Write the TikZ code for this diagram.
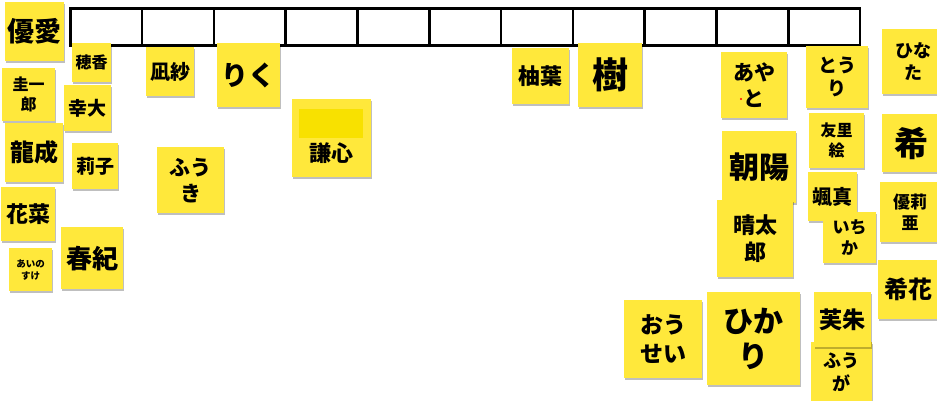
\documentclass[tikz,border=0pt]{standalone}
\usepackage{fontspec}
\newfontfamily\jp{Noto Sans CJK JP}
\usetikzlibrary{shadows}
\definecolor{notey}{HTML}{FFE83B}
\definecolor{notedk}{HTML}{F8E100}
\newcommand\jfs[2]{\fontsize{#1}{#2}\selectfont}
\tikzset{
  note/.style={fill=notey, anchor=north west, inner sep=0pt, align=center,
    drop shadow={shadow xshift=0.8pt, shadow yshift=-1.4pt, opacity=0.25, fill=black}},
  cell/.style={draw=black, line width=2.6pt, minimum width=71.8pt, minimum height=37pt,
    anchor=north west, inner sep=0pt},
}
\begin{document}
\begin{tikzpicture}[x=1pt,y=-1pt]
\useasboundingbox (0,0) rectangle (937,401);
% table
\foreach \i in {1,...,11}
  \node[cell] (c\i) at ({69+71.8*(\i-1)},7) {};
% notes (left)
\node[note, minimum width=59pt, minimum height=59pt, font=\jp\bfseries\jfs{27}{32}] (yuua) at (5,2) {優愛};
\node[note, minimum width=53pt, minimum height=53pt, font=\jp\bfseries\jfs{16}{20}] (keiichiro) at (2,68) {圭一\\郎};
\node[note, minimum width=39pt, minimum height=39pt, font=\jp\bfseries\jfs{16}{20}] (honoka) at (72,43) {穂香};
\node[note, minimum width=47pt, minimum height=46pt, font=\jp\bfseries\jfs{19}{23}] (kodai) at (64,85) {幸大};
\node[note, minimum width=48pt, minimum height=49pt, font=\jp\bfseries\jfs{20}{24}] (nagisa) at (146,47) {凪紗};
\node[note, minimum width=63pt, minimum height=64pt, font=\jp\bfseries\jfs{27}{32}] (riku) at (217,43) {りく};
\node[note, minimum width=79pt, minimum height=78pt] (kenshin) at (292,99) {};
\node[fill=notedk, anchor=north west, inner sep=0pt, minimum width=64pt, minimum height=29pt] (kbar) at (299,109) {};
\node[font=\jp\bfseries\jfs{22}{26}] (kenshintxt) at (331,153) {謙心};
\node[note, minimum width=67pt, minimum height=66pt, font=\jp\bfseries\jfs{21}{26}] (fuuki) at (157,147) {ふう\\き};
\node[note, minimum width=58pt, minimum height=59pt, font=\jp\bfseries\jfs{24}{28}] (ryusei) at (5,123) {龍成};
\node[note, minimum width=46pt, minimum height=46pt, font=\jp\bfseries\jfs{19}{23}] (riko) at (72,143) {莉子};
\node[note, minimum width=54pt, minimum height=54pt, font=\jp\bfseries\jfs{22}{26}] (kana) at (1,187) {花菜};
\node[note, minimum width=43pt, minimum height=43pt, font=\jp\bfseries\jfs{9.5}{12}] (ainosuke) at (9,248) {あいの\\すけ};
\node[note, minimum width=62pt, minimum height=62pt, font=\jp\bfseries\jfs{26}{30}] (haruki) at (61,227) {春紀};
% middle
\node[note, minimum width=57pt, minimum height=56pt, font=\jp\bfseries\jfs{22}{26}] (yuzuha) at (512,48) {柚葉};
\node[note, minimum width=64pt, minimum height=64pt, font=\jp\bfseries\jfs{36}{40}] (itsuki) at (578,43) {樹};
% right
\node[note, minimum width=66pt, minimum height=66pt, font=\jp\bfseries\jfs{21}{26}] (ayato) at (721,52) {あや\\と};
\fill[red] (741,99) circle (1.2pt);
\node[note, minimum width=62pt, minimum height=62pt, font=\jp\bfseries\jfs{19}{23}] (touri) at (806,46) {とう\\り};
\node[note, minimum width=62pt, minimum height=65pt, font=\jp\bfseries\jfs{18}{22}] (hinata) at (882,29) {ひな\\た};
\node[note, minimum width=55pt, minimum height=55pt, font=\jp\bfseries\jfs{16}{20}] (yurie) at (809,113) {友里\\絵};
\node[note, minimum width=58pt, minimum height=58pt, font=\jp\bfseries\jfs{34}{38}] (nozomi) at (882,114) {希};
\node[note, minimum width=74pt, minimum height=72pt, font=\jp\bfseries\jfs{30}{34}] (asahi) at (722,131) {朝陽};
\node[note, minimum width=76pt, minimum height=77pt, font=\jp\bfseries\jfs{22}{27}] (seitaro) at (717,200) {晴太\\郎};
\node[note, minimum width=49pt, minimum height=49pt, font=\jp\bfseries\jfs{20}{24}] (souma) at (808,172) {颯真};
\node[note, minimum width=53pt, minimum height=51pt, font=\jp\bfseries\jfs{17}{21}] (ichika) at (823,212) {いち\\か};
\node[note, minimum width=60pt, minimum height=60pt, font=\jp\bfseries\jfs{17}{21}] (yuria) at (880,182) {優莉\\亜};
\node[note, minimum width=60pt, minimum height=59pt, font=\jp\bfseries\jfs{24}{28}] (nonoka) at (878,260) {希花};
\node[note, minimum width=78pt, minimum height=78pt, font=\jp\bfseries\jfs{23}{29}] (ousei) at (624,300) {おう\\せい};
\node[note, minimum width=93pt, minimum height=93pt, font=\jp\bfseries\jfs{30}{35}] (hikari) at (707,292) {ひか\\り};
\node[note, minimum width=61pt, minimum height=60pt, font=\jp\bfseries\jfs{18}{23}] (fuga) at (811,342) {ふう\\が};
\node[note, minimum width=57pt, minimum height=55pt, font=\jp\bfseries\jfs{23}{27}] (fuju) at (814,292) {芙朱};
\end{tikzpicture}
\end{document}
